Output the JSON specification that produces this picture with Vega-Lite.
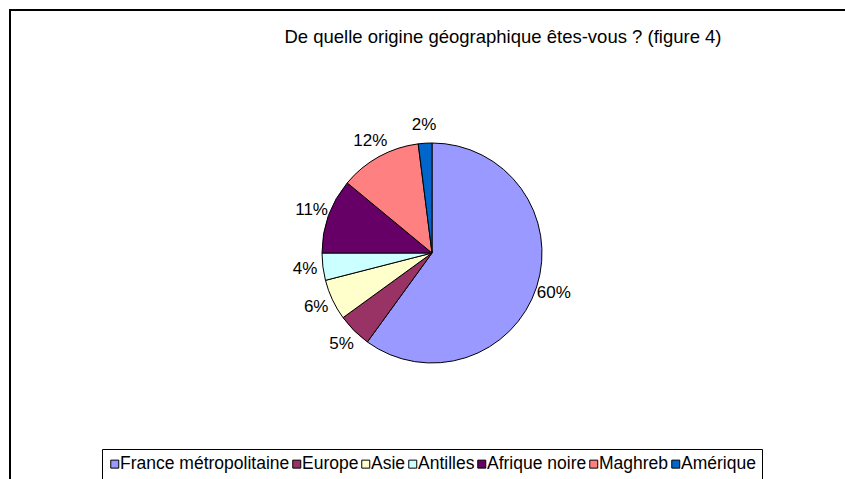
{
  "$schema": "https://vega.github.io/schema/vega-lite/v6.json",
  "width": 844,
  "height": 486,
  "autosize": {"type": "none"},
  "padding": {"left": 10, "top": 10, "right": -9, "bottom": -17},
  "background": "white",
  "view": {"stroke": "black", "strokeWidth": 2},
  "title": {
    "text": "De quelle origine géographique êtes-vous ? (figure 4)",
    "fontSize": 18.5,
    "fontWeight": "normal",
    "font": "Liberation Sans",
    "color": "black",
    "anchor": "middle",
    "frame": "group",
    "dx": 71,
    "offset": -37
  },
  "data": {
    "values": [
      {"origine": "France métropolitaine", "part": 0.60, "rang": 1},
      {"origine": "Europe", "part": 0.05, "rang": 2},
      {"origine": "Asie", "part": 0.06, "rang": 3},
      {"origine": "Antilles", "part": 0.04, "rang": 4},
      {"origine": "Afrique noire", "part": 0.11, "rang": 5},
      {"origine": "Maghreb", "part": 0.12, "rang": 6},
      {"origine": "Amérique", "part": 0.02, "rang": 7}
    ]
  },
  "layer": [
    {
      "data": {"values": [{"cadre": 1}]},
      "mark": {"type": "rect", "fillOpacity": 0, "stroke": "black", "strokeWidth": 2},
      "encoding": {}
    },
    {
      "mark": {"type": "arc", "outerRadius": 110, "stroke": "black", "strokeWidth": 1},
      "encoding": {
        "theta": {"field": "part", "type": "quantitative", "stack": true},
        "order": {"field": "rang", "type": "quantitative"},
        "color": {
          "field": "origine",
          "type": "nominal",
          "scale": {
            "domain": ["France métropolitaine", "Europe", "Asie", "Antilles", "Afrique noire", "Maghreb", "Amérique"],
            "range": ["#9999FF", "#993366", "#FFFFCC", "#CCFFFF", "#660066", "#FF8080", "#0066CC"]
          },
          "legend": {
            "title": null,
            "orient": "none",
            "legendX": 92,
            "legendY": 439,
            "direction": "horizontal",
            "symbolType": "square",
            "symbolSize": 64,
            "symbolStrokeColor": "black",
            "symbolStrokeWidth": 1,
            "symbolOffset": -2,
            "labelFontSize": 17.5,
            "labelFont": "Liberation Sans",
            "labelColor": "black",
            "labelOffset": -3.5,
            "columnPadding": 0,
            "padding": 6,
            "strokeColor": "black",
            "labelLimit": 0
          }
        }
      }
    },
    {
      "mark": {"type": "text", "radius": 128, "fontSize": 17, "font": "Liberation Sans", "color": "black"},
      "encoding": {
        "theta": {"field": "part", "type": "quantitative", "stack": true},
        "order": {"field": "rang", "type": "quantitative"},
        "text": {"field": "part", "type": "quantitative", "format": ".0%"}
      }
    }
  ],
  "config": {
    "view": {"stroke": "black", "strokeWidth": 2},
    "font": "Liberation Sans"
  }
}
